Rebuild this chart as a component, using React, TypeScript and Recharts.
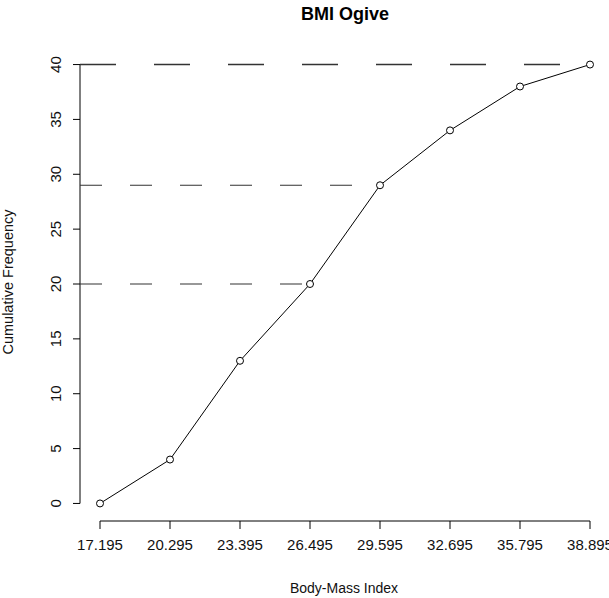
import React from 'react';
import { LineChart, Line, XAxis, YAxis, ReferenceLine } from 'recharts';

const bmiBreaks = [17.195, 20.295, 23.395, 26.495, 29.595, 32.695, 35.795, 38.895];
const cumulativeFreq = [0, 4, 13, 20, 29, 34, 38, 40];
const yTicks = [0, 5, 10, 15, 20, 25, 30, 35, 40];
const guideLevels = [40, 29, 20];
const guideEnds = [38.895, 29.595, 26.495];

const data = bmiBreaks.map((x, i) => ({ x, freq: cumulativeFreq[i] }));

const X_DOMAIN: [number, number] = [16.309, 39.736];
const Y_DOMAIN: [number, number] = [-1.6, 41.6];
const FONT = '"Liberation Sans", Arial, Helvetica, sans-serif';

const XTick = (props: any) => {
  const { x, y, payload } = props;
  return (
    <text x={x} y={y + 19} textAnchor="middle" fontSize={15} fill="#111" fontFamily={FONT}>
      {payload.value.toFixed(3)}
    </text>
  );
};

const YTick = (props: any) => {
  const { x, y, payload } = props;
  const bx = x - 10;
  return (
    <text
      x={bx}
      y={y}
      transform={`rotate(-90, ${bx}, ${y})`}
      textAnchor="middle"
      fontSize={15}
      fill="#111"
      fontFamily={FONT}
    >
      {payload.value}
    </text>
  );
};

export default function App() {
  return (
    <div style={{ position: 'absolute', left: 0, top: 0, background: '#fff' }}>
      <LineChart width={609} height={598} data={data} margin={{ top: 47, right: 0, bottom: 0, left: 0 }}>
        <text x={345} y={14} textAnchor="middle" dominantBaseline="central" fontSize={18} fontWeight="bold" fontFamily={FONT} fill="#000">
          BMI Ogive
        </text>
        <text
          x={13}
          y={282}
          transform="rotate(-90, 13, 282)"
          textAnchor="middle"
          fontSize={14.5}
          fontFamily={FONT}
          fill="#111"
        >
          Cumulative Frequency
        </text>
        <text x={344} y={593} textAnchor="middle" fontSize={14} fontFamily={FONT} fill="#111">
          Body-Mass Index
        </text>
        <XAxis
          type="number"
          dataKey="x"
          domain={X_DOMAIN}
          ticks={bmiBreaks}
          allowDataOverflow
          axisLine={false}
          tickSize={8}
          tickLine={{ stroke: '#000', strokeWidth: 1 }}
          tick={<XTick />}
          height={77}
          interval={0}
        />
        <YAxis
          type="number"
          domain={Y_DOMAIN}
          ticks={yTicks}
          allowDataOverflow
          axisLine={false}
          tickSize={7}
          tickLine={{ stroke: '#000', strokeWidth: 1 }}
          tick={<YTick />}
          width={80}
          interval={0}
        />
        <ReferenceLine
          segment={[{ x: bmiBreaks[0], y: Y_DOMAIN[0] }, { x: bmiBreaks[bmiBreaks.length - 1], y: Y_DOMAIN[0] }]}
          stroke="#000"
          strokeWidth={1}
          ifOverflow="visible"
        />
        <ReferenceLine
          segment={[{ x: X_DOMAIN[0], y: yTicks[0] }, { x: X_DOMAIN[0], y: yTicks[yTicks.length - 1] }]}
          stroke="#000"
          strokeWidth={1}
          ifOverflow="visible"
        />
        {guideLevels.map((lvl, i) => (
          <ReferenceLine
            key={lvl}
            segment={[{ x: X_DOMAIN[0], y: lvl }, { x: guideEnds[i], y: lvl }]}
            stroke="#333"
            strokeWidth={i === 0 ? 1.6 : 1.1}
            strokeDasharray={i === 0 ? '36 38' : '22 28'}
            ifOverflow="visible"
          />
        ))}
        <Line
          type="linear"
          dataKey="freq"
          stroke="#000"
          strokeWidth={1}
          dot={{ r: 3.5, fill: '#fff', stroke: '#000', strokeWidth: 1 }}
          isAnimationActive={false}
        />
      </LineChart>
    </div>
  );
}
